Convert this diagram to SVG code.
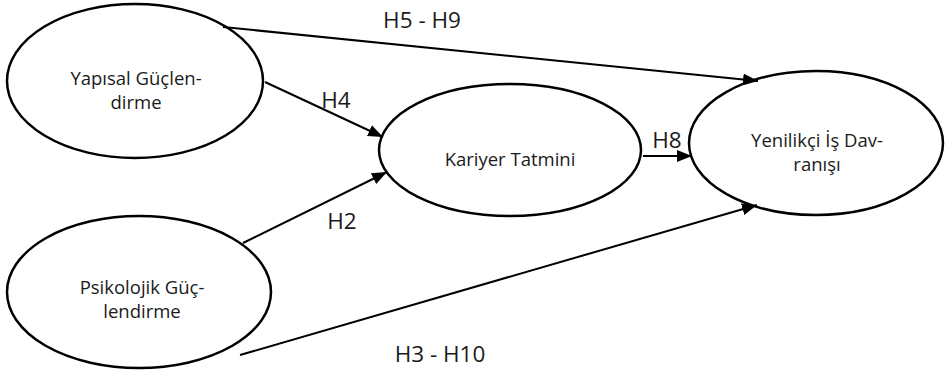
<svg xmlns="http://www.w3.org/2000/svg" width="945" height="370" viewBox="0 0 945 370">
  <style>
    .node { fill: #ffffff; stroke: #000000; stroke-width: 2.5; }
    .edge { stroke: #000000; stroke-width: 2; fill: none; marker-end: url(#arrow); }
    .txt { font-family: "Open Sans", "Noto Sans", sans-serif; font-size: 18.5px; fill: #1a1a1a; text-anchor: middle; }
    .lbl { font-family: "Open Sans", "Noto Sans", sans-serif; font-size: 22.5px; fill: #1a1a1a; text-anchor: middle; }
  </style>
  <defs>
    <marker id="arrow" markerUnits="userSpaceOnUse" markerWidth="15" markerHeight="12" refX="15" refY="6" orient="auto">
      <path d="M0,0 L15,6 L0,12 z" fill="#000000"/>
    </marker>
  </defs>

  <!-- nodes -->
  <g id="yapisal">
    <ellipse class="node" cx="135" cy="81" rx="128" ry="77"/>
    <text class="txt" x="136" y="85">Yapısal Güçlen-</text>
    <text class="txt" x="136" y="109">dirme</text>
  </g>
  <g id="psikolojik">
    <ellipse class="node" cx="139" cy="292" rx="132" ry="76"/>
    <text class="txt" x="142" y="294">Psikolojik Güç-</text>
    <text class="txt" x="142" y="318">lendirme</text>
  </g>
  <g id="kariyer">
    <ellipse class="node" cx="510" cy="150" rx="131" ry="66"/>
    <text class="txt" x="510" y="166">Kariyer Tatmini</text>
  </g>
  <g id="yenilikci">
    <ellipse class="node" cx="816" cy="143" rx="127" ry="72"/>
    <text class="txt" x="817" y="147">Yenilikçi İş Dav-</text>
    <text class="txt" x="817" y="171">ranışı</text>
  </g>

  <!-- connectors -->
  <g id="connectors">
    <line class="edge" x1="223" y1="27" x2="758" y2="81"/>
    <line class="edge" x1="265" y1="82" x2="383" y2="137"/>
    <line class="edge" x1="243" y1="243" x2="387" y2="172"/>
    <line class="edge" x1="643" y1="156" x2="692" y2="156"/>
    <line class="edge" x1="240" y1="355" x2="757" y2="205"/>
    <text class="lbl" x="422" y="28">H5 - H9</text>
    <text class="lbl" x="336" y="108">H4</text>
    <text class="lbl" x="342" y="229">H2</text>
    <text class="lbl" x="667" y="148">H8</text>
    <text class="lbl" x="440" y="362">H3 - H10</text>
  </g>
</svg>
